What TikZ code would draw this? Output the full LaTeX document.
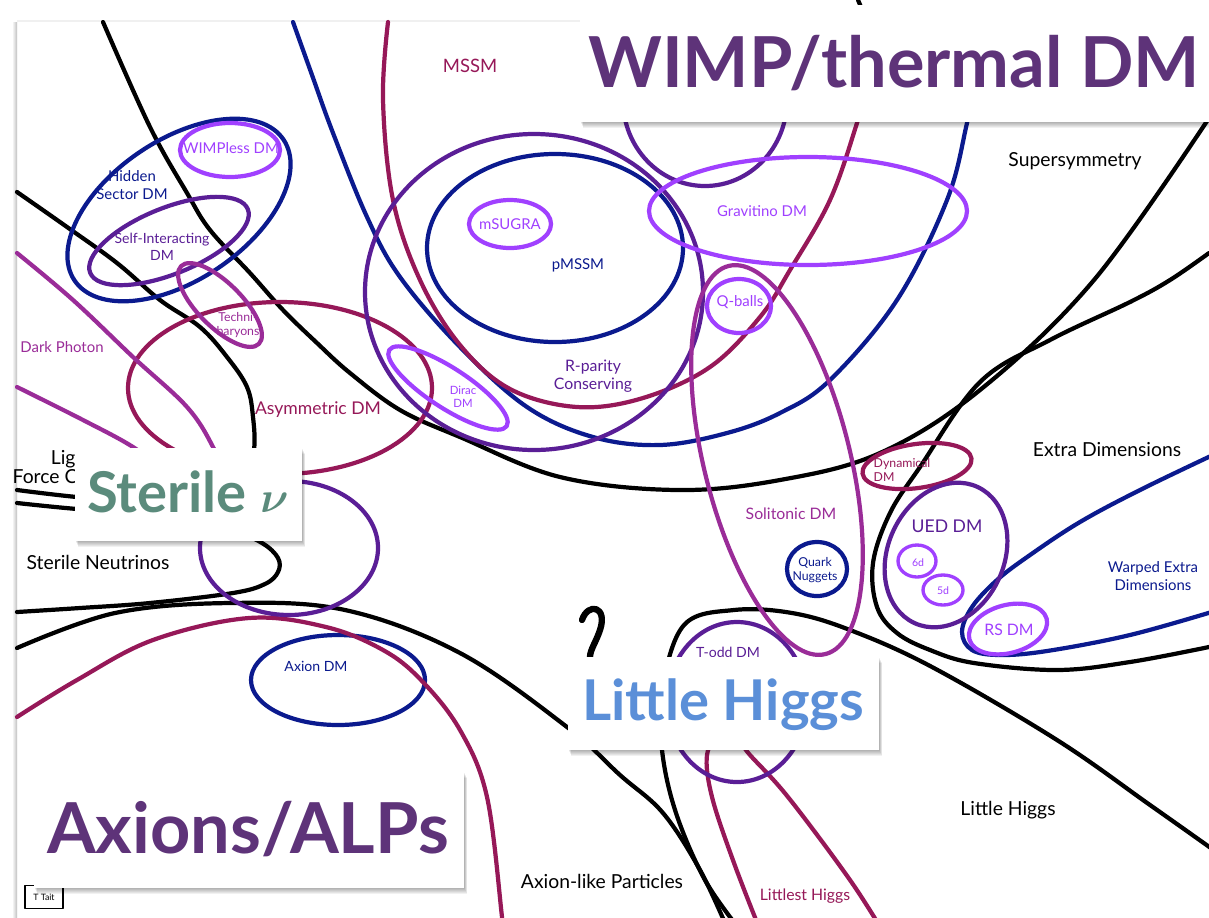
\documentclass[tikz,border=0pt]{standalone}
\usepackage{bm}
\usepackage{fontspec}
\setmainfont{Lato}
\definecolor{cNavy}{HTML}{0B1A8E}
\definecolor{cCrimson}{HTML}{961858}
\definecolor{cPurple}{HTML}{5A1E96}
\definecolor{cViolet}{HTML}{A040FF}
\definecolor{cMagenta}{HTML}{9A2C98}
\definecolor{cTitle}{HTML}{5E3379}
\definecolor{cSterile}{HTML}{5B8B7C}
\definecolor{cHiggs}{HTML}{5B8FD8}
% white panel with a soft shadow below and to the right
\newcommand{\titlepanel}[4]{%
  \foreach \s in {1,...,6}{\fill[black,opacity=0.055] (#1+0.5*\s,#2+\s) rectangle (#3+0.5*\s,#4+\s);}
  \fill[white] (#1,#2) rectangle (#3,#4);}
\begin{document}
\begin{tikzpicture}[x=0.02cm,y=-0.02cm,line cap=round,line join=round,
  rim/.style={line width=2.4pt},
  smallrim/.style={line width=1.9pt},
  lab/.style={inner sep=0pt,align=center},
  big/.style={lab,font=\fontsize{11}{11}\selectfont},
  mid/.style={lab,font=\fontsize{8.5}{9.8}\selectfont},
  sml/.style={lab,font=\fontsize{7}{8}\selectfont},
  tny/.style={lab,font=\fontsize{6}{7}\selectfont},
  headline/.style={inner sep=0pt,anchor=base,font=\bfseries\fontsize{40}{40}\selectfont},
  subhead/.style={inner sep=0pt,anchor=base,font=\bfseries\fontsize{32}{32}\selectfont}]
\useasboundingbox (0,0) rectangle (1209,917);
\fill[white] (0,0) rectangle (1209,917);
% slide edges
\shade[left color=white,right color=black!25] (12,22) rectangle (17,917);
\fill[black!6] (17,20) rectangle (1209,22);

% ---------- black family boundaries ----------
\draw[rim] (858,0) -- (861,7);
% Supersymmetry
\draw[rim] plot[smooth,tension=0.6] coordinates {(103,22)(150,127)(187,193)(210,230)(250,273)(283,310)(317,343)(350,373)(400,410)(460,437)(560,477)(677,490)(780,480)(880,453)(980,390)(1094,280)(1209,118)};
% Light force carriers
\draw[rim] plot[smooth,tension=0.6] coordinates {(17,192)(67,227)(117,263)(160,300)(200,327)(227,357)(247,387)(253,417)(254,450)(245,485)(200,500)(130,500)(77,497)(17,490)};
% Sterile neutrinos
\draw[rim] plot[smooth,tension=0.6] coordinates {(17,503)(77,509)(160,515)(230,530)(262,543)(278,558)(278,572)(265,584)(233,593)(150,603)(80,608)(17,612)};
% Axion-like particles
\draw[rim] plot[smooth,tension=0.6] coordinates {(17,648)(115,613)(230,603)(345,610)(460,653)(567,727)(620,775)(663,813)(700,870)(728,930)};
% Little Higgs
\draw[rim] plot[smooth,tension=0.6] coordinates {(740,930)(705,880)(676,813)(662,750)(662,690)(684,625)(734,610)(792,613)(850,630)(932,667)(1057,740)(1150,805)(1215,851)};
\draw[line width=3.6pt] (582,620) .. controls (588,602) and (608,606) .. (600,630) .. controls (596,642) and (590,650) .. (590,657);
% Extra dimensions
\draw[rim] plot[smooth,tension=0.6] coordinates {(1209,253)(1170,280)(1130,302)(1050,340)(980,382)(920,467)(890,513)(873,563)(877,607)(897,633)(930,650)(974,663)(1057,670)(1130,662)(1209,647)};

% ---------- navy ----------
\draw[rim,cNavy] plot[smooth,tension=0.6] coordinates {(293,22)(312,75)(333,133)(367,217)(400,277)(460,347)(527,407)(593,437)(660,445)(727,433)(780,413)(830,380)(897,300)(947,200)(967,123)(978,70)};
\draw[rim,cNavy,rotate around={34:(179,210)}] (179,210) ellipse (126 and 70);
\draw[rim,cNavy] (555,248) ellipse (128 and 94);
\draw[rim,cNavy] (817,569) ellipse (30 and 27);
\draw[rim,cNavy] plot[smooth,tension=0.6] coordinates {(1215,454)(1140,490)(1080,522)(1030,555)(997,580)(972,607)(962,632)(972,650)(1000,655)(1047,651)(1130,635)(1215,611)};
\draw[rim,cNavy] (338,680) ellipse (87 and 45);

% ---------- crimson ----------
\draw[rim,cCrimson] plot[smooth,tension=0.6] coordinates {(388,22)(383,100)(393,200)(420,280)(460,345)(510,389)(577,407)(643,398)(710,367)(760,317)(790,270)(830,200)(857,123)(872,70)};
\draw[rim,cCrimson] (280,388) ellipse (152 and 86);
\draw[rim,cCrimson,rotate around={8:(917,466)}] (917,466) ellipse (55 and 22);
\draw[rim,cCrimson] plot[smooth,tension=0.6] coordinates {(17,717)(77,680)(153,640)(249,618)(326,627)(383,650)(421,680)(460,730)(487,797)(502,917)(503,930)};
\draw[rim,cCrimson] plot[smooth,tension=0.6] coordinates {(762,935)(734,863)(712,797)(707,755)(720,735)(738,740)(750,755)(788,797)(850,880)(885,935)};

% ---------- purple ----------
\draw[rim,cPurple] (534,292) ellipse (169 and 158);
\draw[rim,cPurple,rotate around={22:(169,241)}] (169,241) ellipse (85 and 33);
\draw[rim,cPurple] (289,548) ellipse (89 and 67);
\draw[rim,cPurple] (705,100) ellipse (82 and 86);
\draw[rim,cPurple,rotate around={65:(946,555)}] (946,555) ellipse (75 and 58);
\draw[rim,cPurple] (737,702) ellipse (70 and 80);

% ---------- violet ----------
\draw[rim,cViolet] (230,150) ellipse (50 and 27);
\draw[rim,cViolet] (510,224) ellipse (41 and 24);
\draw[rim,cViolet] (808,211) ellipse (159 and 54);
\draw[rim,cViolet] (739,306) ellipse (32 and 27);
\draw[rim,cViolet,rotate around={-33:(448,388)}] (448,388) ellipse (70 and 20);
\draw[smallrim,cViolet] (917,561) ellipse (19 and 16);
\draw[smallrim,cViolet] (943,590) ellipse (20 and 15);
\draw[rim,cViolet,rotate around={15:(1008,629)}] (1008,629) ellipse (40 and 24);

% ---------- magenta ----------
\draw[rim,cMagenta] plot[smooth,tension=0.6] coordinates {(17,253)(73,300)(133,357)(187,407)(213,447)(225,480)(205,492)(170,475)(133,447)(83,420)(17,387)};
\draw[rim,cMagenta,rotate around={-45:(220,305)}] (220,305) ellipse (55 and 22);
\draw[rim,cMagenta,rotate around={-76:(777,460)}] (777,460) ellipse (200 and 73);

% ---------- labels ----------
\node[big] (susy) at (1075,161) {Supersymmetry};
\node[big] (xdim) at (1107,450) {Extra Dimensions};
\node[big] (lhlab) at (1008,810) {Little Higgs};
\node[big] (alp) at (602,881) {Axion-like Particles};
\node[big] (sterlab) at (98,562) {Sterile Neutrinos};
\node[big] (lfc) at (72,467) {Light\\Force Carriers};

\node[lab,cCrimson,font=\fontsize{10.5}{12}\selectfont] (mssm) at (470,66) {MSSM};
\node[lab,cCrimson,font=\fontsize{10}{12}\selectfont] (asym) at (318,410) {Asymmetric DM};
\node[sml,cCrimson,align=left] (dyn) at (902,470) {Dynamical\\DM};
\node[lab,cCrimson,font=\fontsize{9}{11}\selectfont] (lest) at (805,896) {Littlest Higgs};

\node[mid,cNavy] (hid) at (132,185) {Hidden\\Sector DM};
\node[mid,cNavy] (pmssm) at (578,265) {pMSSM};
\node[sml,cNavy] (quark) at (815,570) {Quark\\Nuggets};
\node[mid,cNavy] (warp) at (1153,576) {Warped Extra\\Dimensions};
\node[lab,cNavy,font=\fontsize{8}{9}\selectfont] (axdm) at (316,666) {Axion DM};

\node[lab,cPurple,font=\fontsize{8}{9.5}\selectfont] (sidm) at (162,247) {Self-Interacting\\DM};
\node[lab,cPurple,font=\fontsize{9}{10.5}\selectfont] (rpar) at (593,376) {R-parity\\Conserving};
\node[lab,cPurple,font=\fontsize{10}{12}\selectfont] (ued) at (947,526) {UED DM};
\node[lab,cPurple,font=\fontsize{8}{9}\selectfont] (todd) at (728,652) {T-odd DM};

\node[mid,cViolet] (wless) at (231,148) {WIMPless DM};
\node[mid,cViolet] (msugra) at (510,224) {mSUGRA};
\node[mid,cViolet] (grav) at (762,211) {Gravitino DM};
\node[mid,cViolet] (qball) at (740,302) {Q-balls};
\node[tny,cViolet,font=\fontsize{6.5}{7.5}\selectfont] (dirac) at (463,397) {Dirac\\DM};
\node[tny,cViolet] (six) at (918,563) {6d};
\node[tny,cViolet] (five) at (943,591) {5d};
\node[lab,cViolet,font=\fontsize{9}{10}\selectfont] (rs) at (1009,630) {RS DM};

\node[mid,cMagenta] (dph) at (62,347) {Dark Photon};
\node[tny,cMagenta,font=\fontsize{7}{8}\selectfont] (techni) at (238,325) {Techni-\\baryons};
\node[lab,cMagenta,font=\fontsize{9}{11}\selectfont] (solit) at (791,514) {Solitonic DM};

\node[draw,line width=1.1pt,inner sep=0pt,minimum width=0.76cm,minimum height=0.46cm,font=\fontsize{5}{5}\selectfont] (tait) at (44,897) {T Tait};

% ---------- headline panels ----------
\titlepanel{580}{5}{1215}{122}
\node[headline,cTitle] (wimp) at (894,87) {WIMP/thermal DM};
\titlepanel{75}{448}{302}{541}
\node[subhead,cSterile] (sterile) at (188,512) {Sterile $\bm{\nu}$};
\titlepanel{568}{657}{879}{750}
\node[subhead,cHiggs] (lh) at (723,720) {Little Higgs};
\titlepanel{34}{772}{464}{888}
\node[headline,cTitle] (axions) at (248,853) {Axions/ALPs};
\end{tikzpicture}
\end{document}
